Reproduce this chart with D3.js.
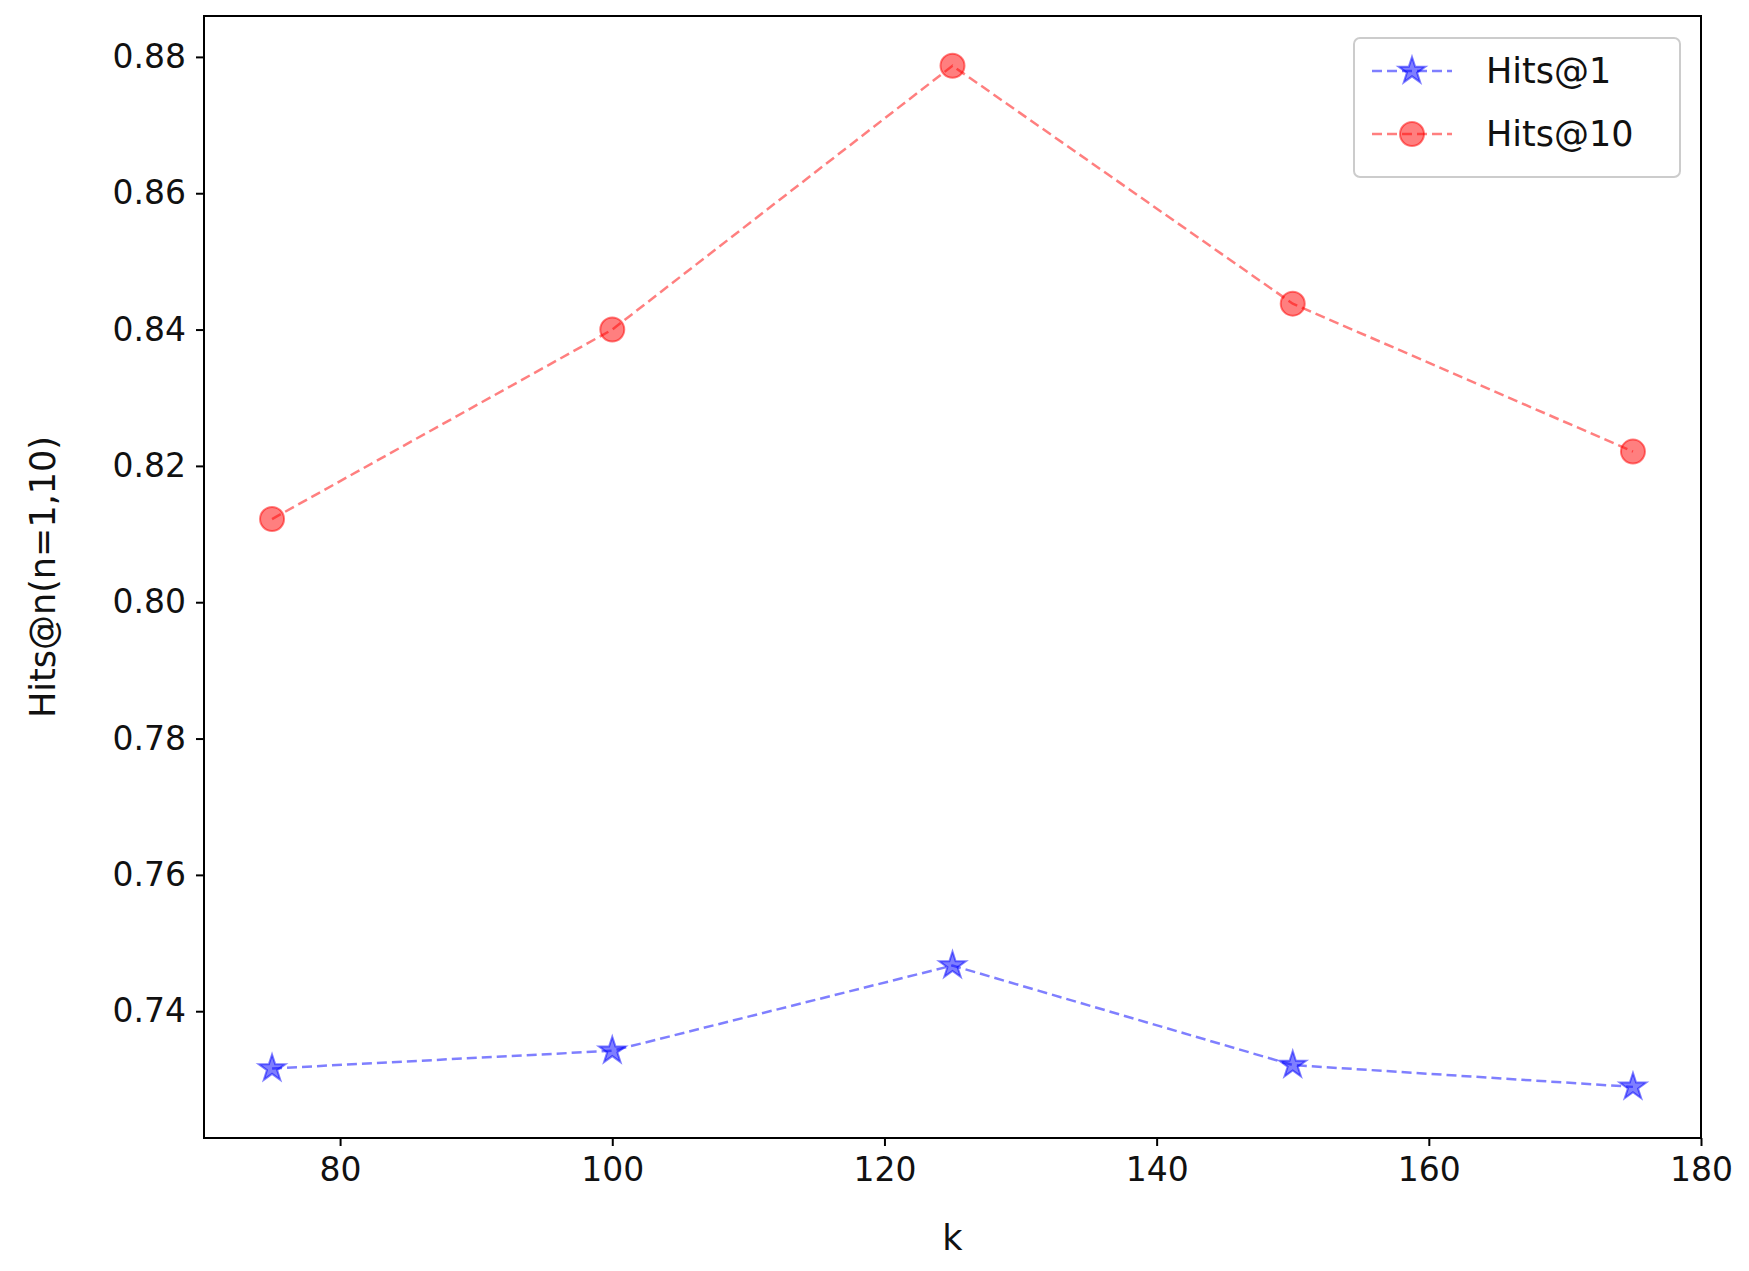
<!DOCTYPE html>
<html><head><meta charset="utf-8">
<script src="https://cdn.jsdelivr.net/npm/d3@7"></script>
<style>body{margin:0;background:#fff;} text{font-family:"DejaVu Sans",sans-serif;fill:#111;}</style>
</head><body>
<script>
var kValues = [75, 100, 125, 150, 175];
var hits1 = [0.7316, 0.7342, 0.7467, 0.7321, 0.7289];
var hits10 = [0.8122, 0.8400, 0.8787, 0.8438, 0.8221];
var xTicks = [80, 100, 120, 140, 160, 180];
var yTicks = [0.74, 0.76, 0.78, 0.80, 0.82, 0.84, 0.86, 0.88];

var W = 1749, H = 1271;
var m = {left: 204, right: 1701, top: 16, bottom: 1138};
var svg = d3.select("body").append("svg").attr("width", W).attr("height", H);

var x = d3.scaleLinear().domain([70, 180]).range([m.left, m.right]);
var y = d3.scaleLinear().domain([0.7214, 0.886]).range([m.bottom, m.top]);

var xAxis = svg.append("g").attr("transform", "translate(0," + m.bottom + ")")
  .call(d3.axisBottom(x).tickValues(xTicks).tickSize(8).tickPadding(10).tickFormat(d3.format("d")));
var yAxis = svg.append("g").attr("transform", "translate(" + m.left + ",0)")
  .call(d3.axisLeft(y).tickValues(yTicks).tickSize(8).tickPadding(10).tickFormat(d3.format(".2f")));
[xAxis, yAxis].forEach(function(a) {
  a.select(".domain").remove();
  a.selectAll("line").attr("stroke", "#000").attr("stroke-width", 2);
  a.selectAll("text").style("font-size", "33px").style("font-family", "DejaVu Sans");
});
xAxis.selectAll("text").attr("dy", "0.75em");

svg.append("rect").attr("x", m.left).attr("y", m.top)
  .attr("width", m.right - m.left).attr("height", m.bottom - m.top)
  .attr("fill", "none").attr("stroke", "#000").attr("stroke-width", 2);

svg.append("text").attr("x", (m.left + m.right) / 2).attr("y", 1250)
  .attr("text-anchor", "middle").style("font-size", "35px").text("k");
svg.append("text").attr("transform", "translate(55," + (m.top + m.bottom) / 2 + ") rotate(-90)")
  .attr("text-anchor", "middle").style("font-size", "35px").text("Hits@n(n=1,10)");

var line = d3.line().x(function(d) { return x(d[0]); }).y(function(d) { return y(d[1]); });
var star = d3.symbol().type(d3.symbolStar).size(220);

function series(vals, color, marker) {
  var pts = kValues.map(function(k, i) { return [k, vals[i]]; });
  svg.append("path").datum(pts).attr("d", line).attr("fill", "none")
    .attr("stroke", color).attr("stroke-opacity", 0.5).attr("stroke-width", 2.5)
    .attr("stroke-dasharray", "10,5");
  var g = svg.append("g").selectAll("g").data(pts).enter().append("g")
    .attr("transform", function(d) { return "translate(" + x(d[0]) + "," + y(d[1]) + ")"; });
  drawMarker(g, color, marker);
}
function drawMarker(g, color, marker) {
  if (marker === "circle") {
    g.append("circle").attr("r", 12).attr("fill", color).attr("fill-opacity", 0.5)
      .attr("stroke", color).attr("stroke-opacity", 0.5).attr("stroke-width", 2);
  } else {
    g.append("path").attr("d", star).attr("fill", color).attr("fill-opacity", 0.5)
      .attr("stroke", color).attr("stroke-opacity", 0.5).attr("stroke-width", 2);
  }
}
series(hits1, "blue", "star");
series(hits10, "red", "circle");

// legend
var lg = svg.append("g");
lg.append("rect").attr("x", 1354).attr("y", 38).attr("width", 326).attr("height", 139)
  .attr("rx", 6).attr("fill", "#fff").attr("fill-opacity", 0.8).attr("stroke", "#ccc").attr("stroke-width", 2);
[["Hits@1", "blue", "star", 71], ["Hits@10", "red", "circle", 134]].forEach(function(s) {
  lg.append("line").attr("x1", 1372).attr("x2", 1452).attr("y1", s[3]).attr("y2", s[3])
    .attr("stroke", s[1]).attr("stroke-opacity", 0.5).attr("stroke-width", 2.5).attr("stroke-dasharray", "10,5");
  var g = lg.append("g").attr("transform", "translate(1412," + s[3] + ")");
  drawMarker(g, s[1], s[2]);
  lg.append("text").attr("x", 1486).attr("y", s[3]).attr("dy", "0.35em")
    .style("font-size", "35px").text(s[0]);
});
</script>
</body></html>
